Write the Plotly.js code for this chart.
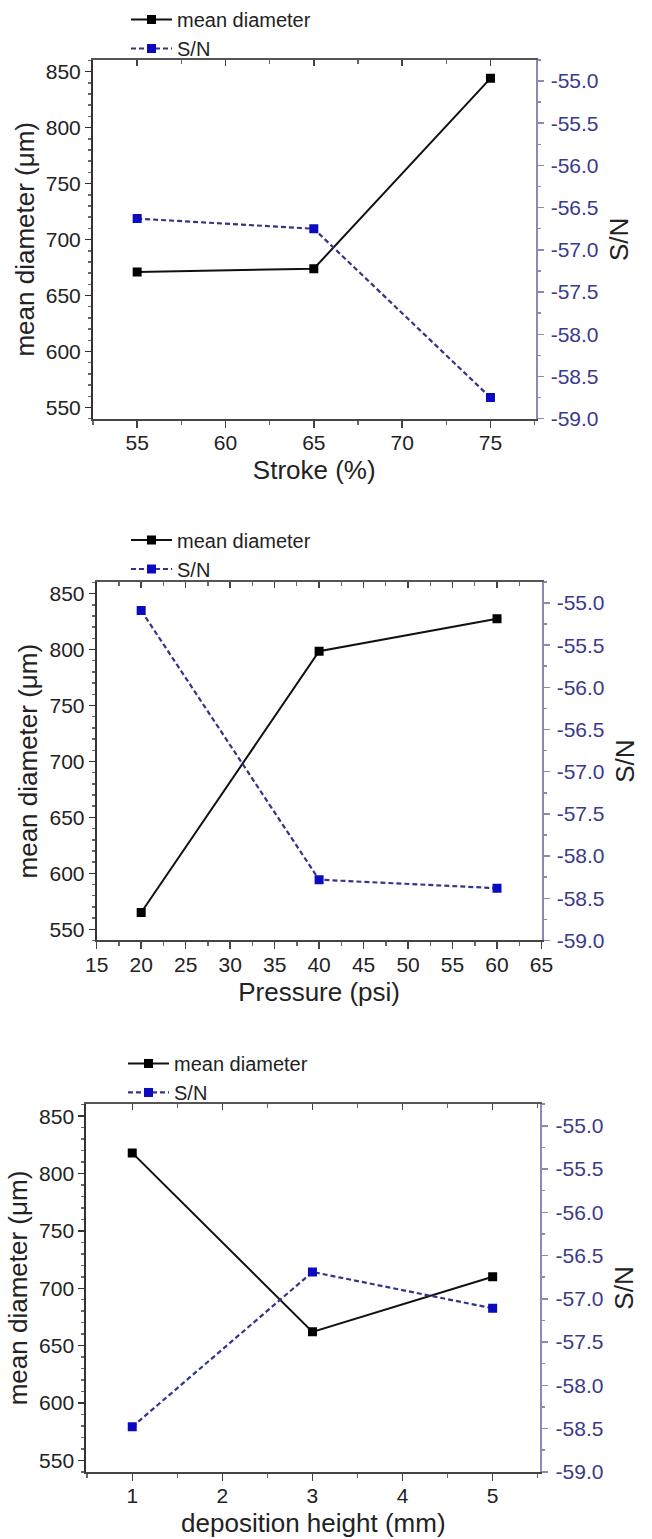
<!DOCTYPE html>
<html><head><meta charset="utf-8">
<script src="https://cdn.plot.ly/plotly-3.0.1.min.js"></script>
<style>html,body{margin:0;padding:0;background:#fff;} #chart{width:652px;height:1539px;}</style>
</head><body><div id="chart"></div>
<script>
// ---- data ----
const strokeX = [55, 65, 75];
const strokeDiameter = [671, 674, 844];
const strokeSN = [-56.63, -56.75, -58.75];

const pressureX = [20, 40, 60];
const pressureDiameter = [565, 798.5, 827.5];
const pressureSN = [-55.09, -58.28, -58.38];

const heightX = [1, 3, 5];
const heightDiameter = [818, 662, 710];
const heightSN = [-58.48, -56.69, -57.11];

const xTitles = ['Stroke (%)', 'Pressure (psi)', 'deposition height (mm)'];
const seriesNames = ['mean diameter', 'S/N'];
const leftTitle = 'mean diameter (\u03bcm)';
const rightTitle = 'S/N';
const diameterTickVals = [550, 600, 650, 700, 750, 800, 850];
const snTickVals = [-59, -58.5, -58, -57.5, -57, -56.5, -56, -55.5, -55];
const snTickText = ['-59.0', '-58.5', '-58.0', '-57.5', '-57.0', '-56.5', '-56.0', '-55.5', '-55.0'];

// ---- layout helpers ----
const W = 652, H = 1539;
const px = v => v / W;
const py = v => 1 - v / H;
const FONT = '"Liberation Sans", Arial, sans-serif';
const TXT = '#222';
const BLUE_TXT = '#3a3a8c';
const BLUE_LINE = '#8a8ab4';

const panels = [
  {x: strokeX, d: strokeDiameter, s: strokeSN, xr: [52.5, 77.55], dtick: 5, tick0: 55, minor: 2.5,
   dom: [93, 535.5], vdom: [57, 416.5], leg: [126, -3.5]},
  {x: pressureX, d: pressureDiameter, s: pressureSN, xr: [15, 65], dtick: 5, tick0: 15, minor: 2.5,
   dom: [96.7, 541.5], vdom: [580, 939.3], leg: [126, 518.5]},
  {x: heightX, d: heightDiameter, s: heightSN, xr: [0.49, 5.53], dtick: 1, tick0: 1, minor: 0.5,
   dom: [86.3, 540.4], vdom: [1103.3, 1471.7], leg: [123, 1043]}
];

const traces = [];
const layout = {
  width: W, height: H,
  margin: {l: 0, r: 0, t: 0, b: 0},
  paper_bgcolor: '#fff', plot_bgcolor: '#fff',
  font: {family: FONT, color: TXT},
  showlegend: true,
  hovermode: false
};

panels.forEach((p, i) => {
  const xid = i === 0 ? 'x' : 'x' + (i + 1);
  const xtop = 'x' + (i + 4);
  const yl = i === 0 ? 'y' : 'y' + (2 * i + 1);
  const yr = 'y' + (2 * i + 2);
  const legId = i === 0 ? 'legend' : 'legend' + (i + 1);
  const name = id => id.replace('x', 'xaxis').replace('y', 'yaxis');

  traces.push({
    type: 'scatter', mode: 'lines+markers', x: p.x, y: p.d, xaxis: xid, yaxis: yl,
    name: seriesNames[0], legend: legId,
    line: {color: '#111', width: 2},
    marker: {symbol: 'square', size: 9, color: '#000'}
  });
  // S/N series drawn against the mirrored (top) x-axis, which shares the bottom axis range
  traces.push({
    type: 'scatter', mode: 'lines+markers', x: p.x, y: p.s, xaxis: xtop, yaxis: yr,
    name: seriesNames[1], legend: legId,
    line: {color: '#34348a', width: 2.2, dash: '5px,3px'},
    marker: {symbol: 'square', size: 9, color: '#0a0ac0'}
  });

  const xdom = [px(p.dom[0]), px(p.dom[1])];
  const ydom = [py(p.vdom[1]), py(p.vdom[0])];

  layout[name(xid)] = {
    domain: xdom, anchor: yl, range: p.xr, fixedrange: true,
    showline: true, linecolor: '#444', linewidth: 2, mirror: false,
    ticks: 'outside', ticklen: 7, tickwidth: 1.5, tickcolor: '#444',
    tick0: p.tick0, dtick: p.dtick, ticklabelstandoff: -3,
    minor: {dtick: p.minor, tick0: p.tick0, ticks: 'outside', ticklen: 4, tickcolor: '#666'},
    showgrid: false, zeroline: false,
    tickfont: {size: 21, color: TXT},
    title: {text: xTitles[i], font: {size: 26, color: TXT}, standoff: 8}
  };
  layout[name(xtop)] = {
    overlaying: xid, anchor: yl, side: 'top', range: p.xr, fixedrange: true,
    showline: true, linecolor: '#555', linewidth: 2, showticklabels: false,
    ticks: 'inside', ticklen: 6, tickwidth: 1.5, tickcolor: '#444',
    tick0: p.tick0, dtick: p.dtick,
    minor: {dtick: p.minor, tick0: p.tick0, ticks: 'inside', ticklen: 4, tickwidth: 1.2, tickcolor: '#666'},
    showgrid: false, zeroline: false
  };
  layout[name(yl)] = {
    domain: ydom, anchor: xid, range: [540, 860.5], fixedrange: true,
    showline: true, linecolor: '#333', linewidth: 2,
    ticks: 'outside', ticklen: 6, tickwidth: 1.5, tickcolor: '#333',
    tickvals: diameterTickVals,
    minor: {dtick: 10, tick0: 550, ticks: 'outside', ticklen: 3, tickcolor: '#666'},
    showgrid: false, zeroline: false,
    tickfont: {size: 21, color: TXT},
    title: {text: leftTitle, font: {size: 26, color: TXT}, standoff: 4}
  };
  layout[name(yr)] = {
    overlaying: yl, anchor: xid, side: 'right', range: [-59.0, -54.75], fixedrange: true,
    showline: true, linecolor: BLUE_LINE, linewidth: 2,
    ticks: 'outside', ticklen: 6, tickwidth: 1.5, tickcolor: BLUE_LINE,
    tickvals: snTickVals, ticktext: snTickText, ticklabelstandoff: 3,
    minor: {dtick: 0.25, tick0: -59, ticks: 'outside', ticklen: 3, tickcolor: BLUE_LINE},
    showgrid: false, zeroline: false,
    tickfont: {size: 21, color: BLUE_TXT},
    title: {text: rightTitle, font: {size: 26, color: TXT}, standoff: 12}
  };
  layout[legId] = {
    x: px(p.leg[0]), xanchor: 'left', y: py(p.leg[1]), yanchor: 'top',
    itemwidth: 41, tracegroupgap: 0, bgcolor: 'rgba(0,0,0,0)', borderwidth: 0,
    font: {size: 20, color: TXT}
  };
});

Plotly.newPlot('chart', traces, layout, {staticPlot: true, displayModeBar: false});
</script>
</body></html>
